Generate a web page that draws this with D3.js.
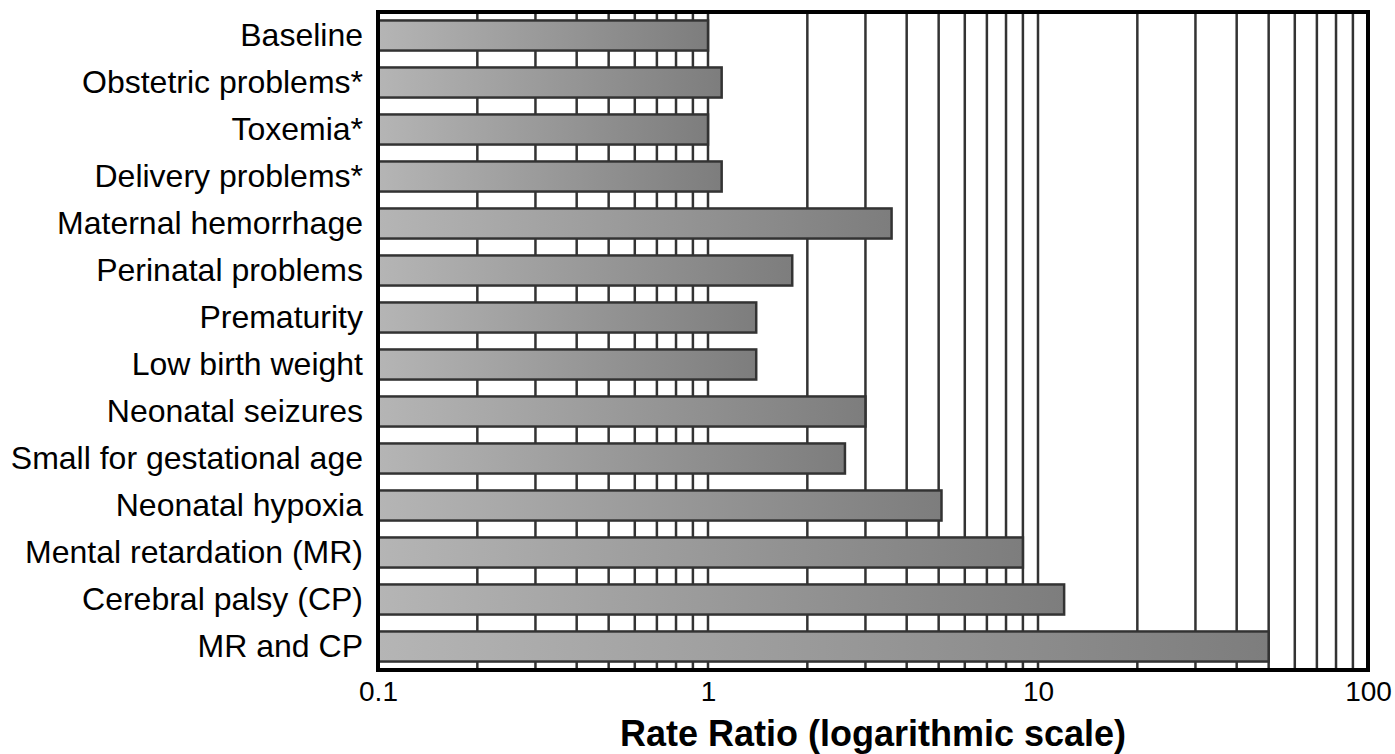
<!DOCTYPE html>
<html>
<head>
<meta charset="utf-8">
<script src="https://cdn.jsdelivr.net/npm/d3@7"></script>
<style>
  html, body { margin: 0; padding: 0; background: #fff; }
  svg { display: block; font-family: "Liberation Sans", Arial, sans-serif; }
</style>
</head>
<body>
<svg id="chart" width="1395" height="754"></svg>
<script>
const categories = [
  "Baseline",
  "Obstetric problems*",
  "Toxemia*",
  "Delivery problems*",
  "Maternal hemorrhage",
  "Perinatal problems",
  "Prematurity",
  "Low birth weight",
  "Neonatal seizures",
  "Small for gestational age",
  "Neonatal hypoxia",
  "Mental retardation (MR)",
  "Cerebral palsy (CP)",
  "MR and CP"
];
const rateRatios = [1.0, 1.1, 1.0, 1.1, 3.6, 1.8, 1.4, 1.4, 3.0, 2.6, 5.1, 9.0, 12, 50];
const tickValues = [0.1, 1, 10, 100];
const tickLabels = ["0.1", "1", "10", "100"];
const gridValues = [0.2,0.3,0.4,0.5,0.6,0.7,0.8,0.9,1,2,3,4,5,6,7,8,9,10,20,30,40,50,60,70,80,90];
const xTitle = "Rate Ratio (logarithmic scale)";

const svg = d3.select("#chart");
const plotLeft = 378, plotRight = 1368, plotTop = 12, plotBottom = 670;

const x = d3.scaleLog().domain([0.1, 100]).range([plotLeft, plotRight]);
const y = d3.scaleBand().domain(categories).range([plotTop, plotBottom])
  .paddingInner(0.36).paddingOuter(0.18);

const defs = svg.append("defs");
const grad = defs.append("linearGradient").attr("id", "barGrad")
  .attr("x1", "0").attr("x2", "1").attr("y1", "0").attr("y2", "0");
grad.append("stop").attr("offset", "0%").attr("stop-color", "#b5b5b5");
grad.append("stop").attr("offset", "100%").attr("stop-color", "#7d7d7d");

// grid lines
svg.append("g").selectAll("line").data(gridValues).join("line")
  .attr("x1", d => x(d)).attr("x2", d => x(d))
  .attr("y1", plotTop).attr("y2", plotBottom)
  .attr("stroke", "#333").attr("stroke-width", 2.5);

// bars
svg.append("g").selectAll("rect").data(categories).join("rect")
  .attr("x", x(0.1))
  .attr("y", d => y(d))
  .attr("width", (d, i) => x(rateRatios[i]) - x(0.1))
  .attr("height", y.bandwidth())
  .attr("fill", "url(#barGrad)")
  .attr("stroke", "#333")
  .attr("stroke-width", 2.5);

// frame
svg.append("rect")
  .attr("x", plotLeft).attr("y", plotTop)
  .attr("width", plotRight - plotLeft).attr("height", plotBottom - plotTop)
  .attr("fill", "none").attr("stroke", "#000").attr("stroke-width", 4);

// x axis labels
const xAxis = d3.axisBottom(x).tickValues(tickValues)
  .tickFormat((d, i) => tickLabels[i]).tickSize(0).tickPadding(11);
const gx = svg.append("g").attr("transform", `translate(0,${plotBottom})`).call(xAxis);
gx.select(".domain").remove();
gx.selectAll("text").attr("font-size", 28).attr("fill", "#000")
  .attr("font-family", "'Liberation Sans', Arial, sans-serif");

// y labels
const yAxis = d3.axisLeft(y).tickSize(0).tickPadding(15);
const gy = svg.append("g").attr("transform", `translate(${plotLeft},0)`).call(yAxis);
gy.select(".domain").remove();
gy.selectAll("text").attr("font-size", 32).attr("fill", "#000")
  .attr("font-family", "'Liberation Sans', Arial, sans-serif");

// title
svg.append("text")
  .attr("x", (plotLeft + plotRight) / 2).attr("y", 746)
  .attr("text-anchor", "middle")
  .attr("font-size", 36).attr("font-weight", "bold").attr("fill", "#000")
  .attr("font-family", "'Liberation Sans', Arial, sans-serif")
  .text(xTitle);
</script>
</body>
</html>
